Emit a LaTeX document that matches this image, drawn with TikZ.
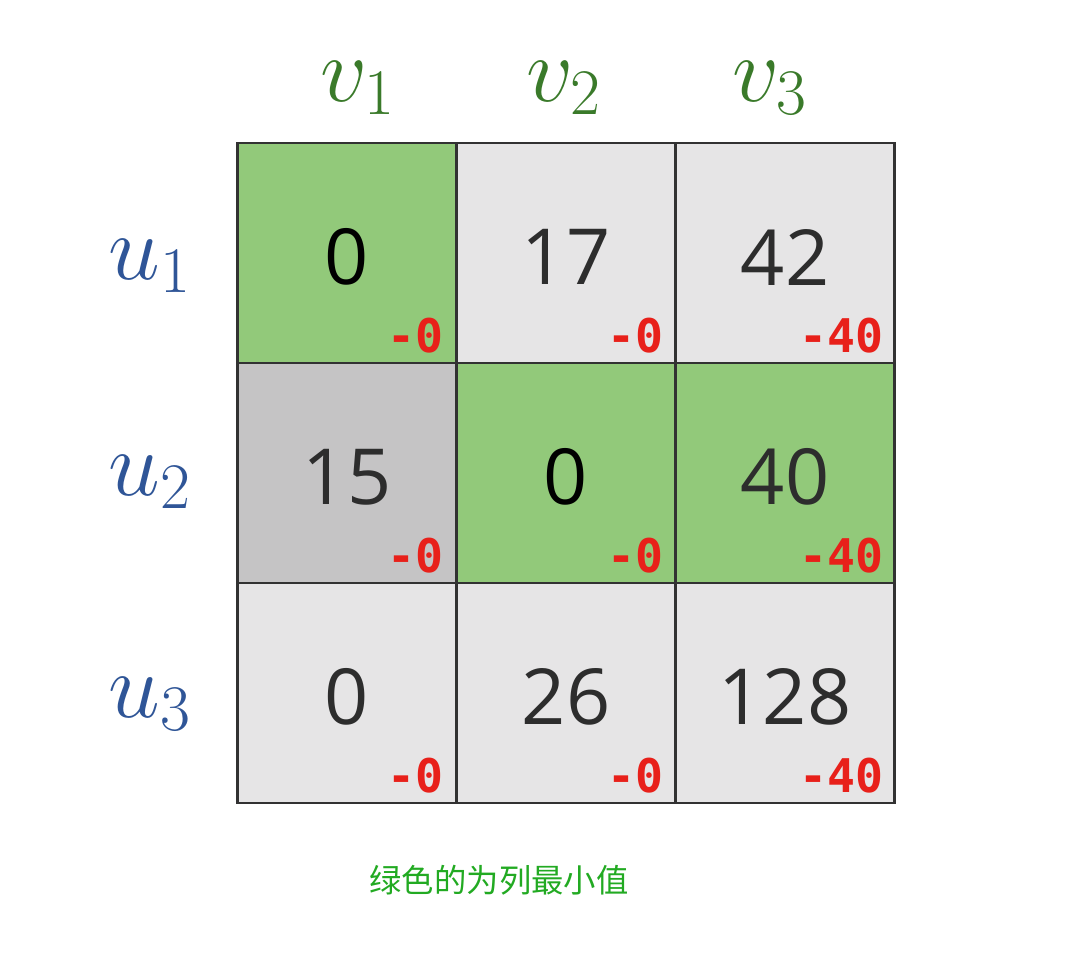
\documentclass[tikz,border=0pt]{standalone}
\usepackage{fix-cm}
\usepackage{fontspec}
\setmainfont{Open Sans}
\newfontfamily\cjk{Noto Sans CJK SC}
\newfontfamily\redmono{DejaVu Sans Mono}
\definecolor{cgreen}{RGB}{146,201,122}
\definecolor{clight}{RGB}{230,229,230}
\definecolor{cdark}{RGB}{197,196,197}
\definecolor{cline}{RGB}{50,50,50}
\definecolor{vgreen}{RGB}{58,122,42}
\definecolor{ublue}{RGB}{47,85,151}
\definecolor{cred}{RGB}{232,32,26}
\definecolor{cnum}{RGB}{45,45,45}
\definecolor{ctext}{RGB}{34,170,34}
\begin{document}
\begin{tikzpicture}[x=0.025cm,y=-0.025cm,
  cellbox/.style={draw=cline,line width=1.8pt,minimum width=219*0.025cm,minimum height=220*0.025cm,inner sep=0pt,outer sep=0pt},
  num/.style={font=\fontsize{55}{60}\selectfont,text=cnum},
  sub/.style={font=\redmono\bfseries\fontsize{33}{36}\selectfont,text=cred,anchor=base east,inner sep=0pt},
  vlab/.style={font=\fontsize{66}{70}\selectfont,text=vgreen},
  ulab/.style={font=\fontsize{66}{70}\selectfont,text=ublue}]
\useasboundingbox[fill=white] (0,0) rectangle (1070,959);
% cells
\node[cellbox,fill=cgreen] (c11) at (347,253) {};
\node[cellbox,fill=clight] (c12) at (566,253) {};
\node[cellbox,fill=clight] (c13) at (785,253) {};
\node[cellbox,fill=cdark]  (c21) at (347,473) {};
\node[cellbox,fill=cgreen] (c22) at (566,473) {};
\node[cellbox,fill=cgreen] (c23) at (785,473) {};
\node[cellbox,fill=clight] (c31) at (347,693) {};
\node[cellbox,fill=clight] (c32) at (566,693) {};
\node[cellbox,fill=clight] (c33) at (785,693) {};
% numbers
\node[num,text=black] (n11) at (347,257) {0};
\node[num] (n12) at (566,257) {17};
\node[num] (n13) at (785,257) {42};
\node[num] (n21) at (347,477) {15};
\node[num,text=black] (n22) at (566,477) {0};
\node[num] (n23) at (785,477) {40};
\node[num] (n31) at (347,697) {0};
\node[num] (n32) at (566,697) {26};
\node[num] (n33) at (785,697) {128};
% red labels
\node[sub] (s11) at (444,352) {-0};
\node[sub] (s12) at (664,352) {-0};
\node[sub] (s13) at (884,352) {-40};
\node[sub] (s21) at (444,572) {-0};
\node[sub] (s22) at (664,572) {-0};
\node[sub] (s23) at (884,572) {-40};
\node[sub] (s31) at (444,792) {-0};
\node[sub] (s32) at (664,792) {-0};
\node[sub] (s33) at (884,792) {-40};
% headers
\node[vlab] (v1) at (358,88) {$v_1$};
\node[vlab] (v2) at (564,88) {$v_2$};
\node[vlab] (v3) at (770,88) {$v_3$};
\node[ulab] (u1) at (150,266) {$u_1$};
\node[ulab] (u2) at (150,482) {$u_2$};
\node[ulab] (u3) at (150,704) {$u_3$};
% caption
\node[font=\cjk\fontsize{23}{26}\selectfont,text=ctext] (cap) at (499,880) {绿色的为列最小值};
\end{tikzpicture}
\end{document}
